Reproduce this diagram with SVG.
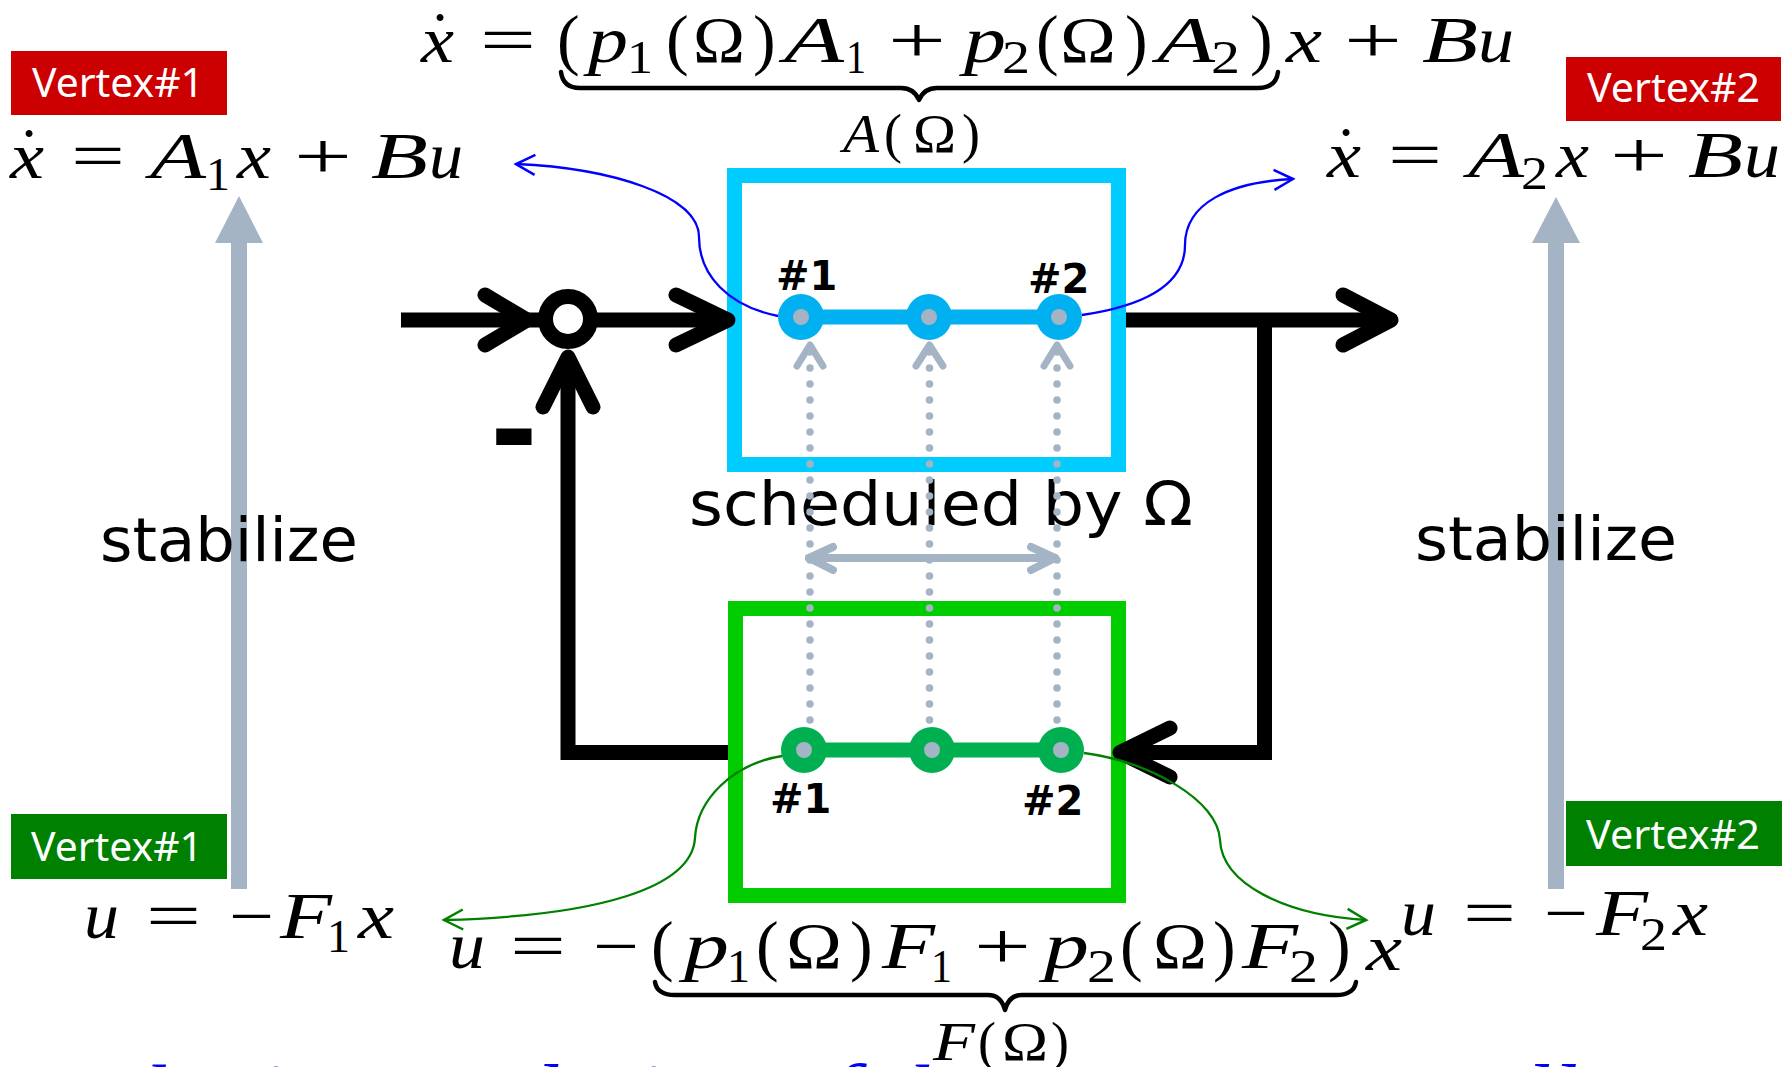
<svg xmlns="http://www.w3.org/2000/svg" width="1787" height="1067" viewBox="0 0 1787 1067">
<defs>
<style>
.mi{font-family:"Liberation Serif",serif;font-style:italic;font-size:66px;fill:#000}
.mr{font-family:"Liberation Serif",serif;font-size:66px;fill:#000}
.sb{font-family:"Liberation Serif",serif;font-size:46px;fill:#000}
.pr{font-family:"Liberation Serif",serif;font-size:68px;fill:#000}
.li{font-family:"Liberation Serif",serif;font-style:italic;font-size:54px;fill:#000}
.lr{font-family:"Liberation Serif",serif;font-size:54px;fill:#000}
.vt{font-family:"Noto Sans",sans-serif;font-size:40px;fill:#fff}
.hl{font-family:"DejaVu Sans",sans-serif;font-weight:bold;font-size:40px;fill:#000}
.lb{font-family:"DejaVu Sans",sans-serif;font-size:60px;fill:#000}
.blk{fill:none;stroke:#000;stroke-width:15;stroke-linejoin:miter}
.chev{fill:none;stroke:#000;stroke-width:15;stroke-linecap:round;stroke-linejoin:round}
.gry{fill:none;stroke:#A5B4C4;stroke-linecap:round;stroke-linejoin:round}
.dots{fill:none;stroke:#A5B4C4;stroke-width:7.5;stroke-linecap:round;stroke-dasharray:0 16}
.brace{fill:none;stroke:#000;stroke-width:4.5;stroke-linecap:round;stroke-linejoin:round}
.cb{fill:none;stroke:#0000FF;stroke-width:2.3}
.cg{fill:none;stroke:#008000;stroke-width:2.3}
</style>
<marker id="mb" markerWidth="30" markerHeight="30" refX="20" refY="11" orient="auto" markerUnits="userSpaceOnUse" overflow="visible"><path d="M1,1 L20,11 L1,21" fill="none" stroke="#0000FF" stroke-width="2.5"/></marker>
<marker id="mg" markerWidth="30" markerHeight="30" refX="20" refY="11" orient="auto" markerUnits="userSpaceOnUse" overflow="visible"><path d="M1,1 L20,11 L1,21" fill="none" stroke="#008000" stroke-width="2.5"/></marker>
</defs>
<rect width="1787" height="1067" fill="#fff"/>

<!-- stabilize arrows -->
<g id="stabilize-left">
<path d="M231,889 V243 H215 L239,196 L263,243 H247 V889 Z" fill="#A5B4C4"/>
<text class="lb" x="100" y="561" textLength="258" lengthAdjust="spacingAndGlyphs">stabilize</text>
</g>
<g id="stabilize-right">
<path d="M1548,889 V243 H1532 L1556,197 L1580,243 H1564 V889 Z" fill="#A5B4C4"/>
<text class="lb" x="1415" y="560" textLength="262" lengthAdjust="spacingAndGlyphs">stabilize</text>
</g>

<!-- vertex labels -->
<g id="vertex1-red"><rect x="11" y="51" width="216" height="64" fill="#CC0000"/><text class="vt" x="32" y="97" textLength="172" lengthAdjust="spacingAndGlyphs">Vertex#1</text></g>
<g id="vertex2-red"><rect x="1566" y="57" width="215" height="64" fill="#CC0000"/><text class="vt" x="1587" y="102" textLength="173" lengthAdjust="spacingAndGlyphs">Vertex#2</text></g>
<g id="vertex1-green"><rect x="11" y="814" width="216" height="65" fill="#008000"/><text class="vt" x="31" y="861" textLength="172" lengthAdjust="spacingAndGlyphs">Vertex#1</text></g>
<g id="vertex2-green"><rect x="1566" y="801" width="216" height="65" fill="#008000"/><text class="vt" x="1586" y="849" textLength="174" lengthAdjust="spacingAndGlyphs">Vertex#2</text></g>

<!-- top equation -->
<g id="eq-top">
<text class="mi" x="421" y="62" textLength="33" lengthAdjust="spacingAndGlyphs">x</text>
<text class="mr" x="440" y="58" text-anchor="middle">˙</text>
<text class="mr" x="480" y="62" textLength="56" lengthAdjust="spacingAndGlyphs">=</text>
<text class="pr" x="557" y="62">(</text>
<text class="mi" x="588" y="62" textLength="40" lengthAdjust="spacingAndGlyphs">p</text>
<text class="sb" x="627" y="73" textLength="26" lengthAdjust="spacingAndGlyphs">1</text>
<text class="pr" x="666" y="62">(</text>
<text class="mr" x="693" y="62" textLength="52" lengthAdjust="spacingAndGlyphs">Ω</text>
<text class="pr" x="753" y="62">)</text>
<text class="mi" x="784" y="62" textLength="60" lengthAdjust="spacingAndGlyphs">A</text>
<text class="sb" x="846" y="73" textLength="20" lengthAdjust="spacingAndGlyphs">1</text>
<text class="mr" x="888" y="62" textLength="58" lengthAdjust="spacingAndGlyphs">+</text>
<text class="mi" x="964" y="62" textLength="42" lengthAdjust="spacingAndGlyphs">p</text>
<text class="sb" x="1002" y="73" textLength="28" lengthAdjust="spacingAndGlyphs">2</text>
<text class="pr" x="1036" y="62">(</text>
<text class="mr" x="1060" y="62" textLength="56" lengthAdjust="spacingAndGlyphs">Ω</text>
<text class="pr" x="1125" y="62">)</text>
<text class="mi" x="1157" y="62" textLength="58" lengthAdjust="spacingAndGlyphs">A</text>
<text class="sb" x="1211" y="73" textLength="29" lengthAdjust="spacingAndGlyphs">2</text>
<text class="pr" x="1250" y="62">)</text>
<text class="mi" x="1286" y="62" textLength="36" lengthAdjust="spacingAndGlyphs">x</text>
<text class="mr" x="1344" y="62" textLength="58" lengthAdjust="spacingAndGlyphs">+</text>
<text class="mi" x="1422" y="62" textLength="56" lengthAdjust="spacingAndGlyphs">B</text>
<text class="mi" x="1478" y="62" textLength="36" lengthAdjust="spacingAndGlyphs">u</text>
<path class="brace" d="M561,72 Q563,88 580,88 L901,88 Q914,88 919,100 Q924,88 937,88 L1258,88 Q1276,88 1278,72"/>
<text class="li" x="843" y="152" textLength="36" lengthAdjust="spacingAndGlyphs">A</text>
<text class="lr" x="884" y="152">(</text>
<text class="lr" x="913" y="152" textLength="43" lengthAdjust="spacingAndGlyphs">Ω</text>
<text class="lr" x="962" y="152">)</text>
</g>

<!-- left equation -->
<g id="eq-left">
<text class="mi" x="10" y="178" textLength="34" lengthAdjust="spacingAndGlyphs">x</text>
<text class="mr" x="29" y="174" text-anchor="middle">˙</text>
<text class="mr" x="71" y="178" textLength="54" lengthAdjust="spacingAndGlyphs">=</text>
<text class="mi" x="150" y="178" textLength="56" lengthAdjust="spacingAndGlyphs">A</text>
<text class="sb" x="206" y="190" textLength="24" lengthAdjust="spacingAndGlyphs">1</text>
<text class="mi" x="237" y="178" textLength="34" lengthAdjust="spacingAndGlyphs">x</text>
<text class="mr" x="294" y="178" textLength="58" lengthAdjust="spacingAndGlyphs">+</text>
<text class="mi" x="371" y="178" textLength="57" lengthAdjust="spacingAndGlyphs">B</text>
<text class="mi" x="429" y="178" textLength="34" lengthAdjust="spacingAndGlyphs">u</text>
</g>

<!-- right equation -->
<g id="eq-right">
<text class="mi" x="1327" y="177" textLength="34" lengthAdjust="spacingAndGlyphs">x</text>
<text class="mr" x="1346" y="173" text-anchor="middle">˙</text>
<text class="mr" x="1388" y="177" textLength="54" lengthAdjust="spacingAndGlyphs">=</text>
<text class="mi" x="1468" y="177" textLength="56" lengthAdjust="spacingAndGlyphs">A</text>
<text class="sb" x="1521" y="189" textLength="27" lengthAdjust="spacingAndGlyphs">2</text>
<text class="mi" x="1556" y="177" textLength="33" lengthAdjust="spacingAndGlyphs">x</text>
<text class="mr" x="1610" y="177" textLength="58" lengthAdjust="spacingAndGlyphs">+</text>
<text class="mi" x="1688" y="177" textLength="55" lengthAdjust="spacingAndGlyphs">B</text>
<text class="mi" x="1744" y="177" textLength="36" lengthAdjust="spacingAndGlyphs">u</text>
</g>

<!-- bottom left equation -->
<g id="eq-bottom-left">
<text class="mi" x="84" y="938" textLength="35" lengthAdjust="spacingAndGlyphs">u</text>
<text class="mr" x="146" y="938" textLength="55" lengthAdjust="spacingAndGlyphs">=</text>
<text class="mr" x="229" y="938" textLength="45" lengthAdjust="spacingAndGlyphs">−</text>
<text class="mi" x="280" y="938" textLength="52" lengthAdjust="spacingAndGlyphs">F</text>
<text class="sb" x="327" y="952" textLength="23" lengthAdjust="spacingAndGlyphs">1</text>
<text class="mi" x="358" y="938" textLength="36" lengthAdjust="spacingAndGlyphs">x</text>
</g>

<!-- bottom right equation -->
<g id="eq-bottom-right">
<text class="mi" x="1401" y="935" textLength="35" lengthAdjust="spacingAndGlyphs">u</text>
<text class="mr" x="1463" y="935" textLength="53" lengthAdjust="spacingAndGlyphs">=</text>
<text class="mr" x="1544" y="935" textLength="44" lengthAdjust="spacingAndGlyphs">−</text>
<text class="mi" x="1596" y="935" textLength="52" lengthAdjust="spacingAndGlyphs">F</text>
<text class="sb" x="1640" y="950" textLength="27" lengthAdjust="spacingAndGlyphs">2</text>
<text class="mi" x="1673" y="935" textLength="35" lengthAdjust="spacingAndGlyphs">x</text>
</g>

<!-- bottom middle equation -->
<g id="eq-bottom">
<text class="mi" x="449" y="968" textLength="36" lengthAdjust="spacingAndGlyphs">u</text>
<text class="mr" x="510" y="968" textLength="56" lengthAdjust="spacingAndGlyphs">=</text>
<text class="mr" x="593" y="968" textLength="46" lengthAdjust="spacingAndGlyphs">−</text>
<text class="pr" x="651" y="968">(</text>
<text class="mi" x="684" y="968" textLength="45" lengthAdjust="spacingAndGlyphs">p</text>
<text class="sb" x="727" y="982" textLength="23" lengthAdjust="spacingAndGlyphs">1</text>
<text class="pr" x="756" y="968">(</text>
<text class="mr" x="786" y="968" textLength="56" lengthAdjust="spacingAndGlyphs">Ω</text>
<text class="pr" x="850" y="968">)</text>
<text class="mi" x="882" y="968" textLength="53" lengthAdjust="spacingAndGlyphs">F</text>
<text class="sb" x="931" y="982" textLength="21" lengthAdjust="spacingAndGlyphs">1</text>
<text class="mr" x="974" y="968" textLength="57" lengthAdjust="spacingAndGlyphs">+</text>
<text class="mi" x="1044" y="968" textLength="45" lengthAdjust="spacingAndGlyphs">p</text>
<text class="sb" x="1087" y="982" textLength="29" lengthAdjust="spacingAndGlyphs">2</text>
<text class="pr" x="1120" y="968">(</text>
<text class="mr" x="1153" y="968" textLength="54" lengthAdjust="spacingAndGlyphs">Ω</text>
<text class="pr" x="1213" y="968">)</text>
<text class="mi" x="1242" y="968" textLength="56" lengthAdjust="spacingAndGlyphs">F</text>
<text class="sb" x="1289" y="982" textLength="29" lengthAdjust="spacingAndGlyphs">2</text>
<text class="pr" x="1328" y="968">)</text>
<text class="mi" x="1366" y="970" textLength="36" lengthAdjust="spacingAndGlyphs">x</text>
<path class="brace" d="M655,982 Q657,995 675,995 L988,995 Q1001,995 1005,1010 Q1009,995 1022,995 L1336,995 Q1354,995 1356,982"/>
<text class="li" x="933" y="1060" textLength="42" lengthAdjust="spacingAndGlyphs">F</text>
<text class="lr" x="978" y="1060">(</text>
<text class="lr" x="1002" y="1060" textLength="46" lengthAdjust="spacingAndGlyphs">Ω</text>
<text class="lr" x="1051" y="1060">)</text>
</g>

<!-- scheduled label -->
<g id="scheduled"><text class="lb" x="689" y="525" textLength="504" lengthAdjust="spacingAndGlyphs">scheduled by Ω</text></g>

<!-- boxes -->
<g id="box-A"><rect x="734.5" y="175.5" width="384" height="289" fill="none" stroke="#00CCFF" stroke-width="15"/></g>
<g id="box-F"><rect x="735.5" y="608.5" width="383" height="287" fill="none" stroke="#00CC00" stroke-width="15"/></g>

<!-- black loop connectors -->
<g id="loop">
<path class="blk" d="M401,320 H550"/>
<path class="blk" d="M590,320 H727"/>
<path class="blk" d="M1126,320 H1390"/>
<path class="blk" d="M1264.5,320 V752.5 H1120"/>
<path class="blk" d="M728,752.5 H568 V358"/>
<path class="chev" d="M485,295 L527,320 L485,345"/>
<path class="chev" d="M676,295 L728,320 L676,345"/>
<path class="chev" d="M1343,295 L1391,320 L1343,345"/>
<path class="chev" d="M1170,728 L1120,752.5 L1170,777"/>
<path class="chev" d="M543,407 L568,357 L593,407"/>
</g>
<g id="junction"><circle cx="568" cy="319" r="22.5" fill="#fff" stroke="#000" stroke-width="15"/>
<text x="490" y="470" font-family="DejaVu Sans, sans-serif" font-weight="bold" font-size="115" fill="#000">-</text></g>

<!-- nodes in A box -->
<g id="nodes-A">
<line x1="801" y1="317" x2="1059" y2="317" stroke="#00B0F0" stroke-width="15"/>
<g id="nodeA1"><circle cx="801" cy="317" r="23" fill="#00B0F0"/><circle cx="801" cy="317" r="8" fill="#A5B4C4"/><text class="hl" x="776" y="290">#1</text></g>
<g id="nodeA-mid"><circle cx="929" cy="317" r="23" fill="#00B0F0"/><circle cx="929" cy="317" r="8" fill="#A5B4C4"/></g>
<g id="nodeA2"><circle cx="1059" cy="317" r="23" fill="#00B0F0"/><circle cx="1059" cy="317" r="8" fill="#A5B4C4"/><text class="hl" x="1028" y="293">#2</text></g>
</g>

<!-- nodes in F box -->
<g id="nodes-F">
<line x1="804" y1="750" x2="1061" y2="750" stroke="#00B050" stroke-width="15"/>
<g id="nodeF1"><circle cx="804" cy="750" r="23" fill="#00B050"/><circle cx="804" cy="750" r="8" fill="#A5B4C4"/><text class="hl" x="770" y="813">#1</text></g>
<g id="nodeF-mid"><circle cx="932" cy="750" r="23" fill="#00B050"/><circle cx="932" cy="750" r="8" fill="#A5B4C4"/></g>
<g id="nodeF2"><circle cx="1061" cy="750" r="23" fill="#00B050"/><circle cx="1061" cy="750" r="8" fill="#A5B4C4"/><text class="hl" x="1022" y="815">#2</text></g>
</g>

<!-- scheduling connectors -->
<g id="schedule-links">
<path class="dots" d="M810,352 V726"/>
<path class="dots" d="M929.5,352 V726"/>
<path class="dots" d="M1057,352 V726"/>
<path class="gry" stroke-width="7" d="M797,366 L810,345 L823,366"/>
<path class="gry" stroke-width="7" d="M916,366 L929.5,345 L943,366"/>
<path class="gry" stroke-width="7" d="M1044,366 L1057,345 L1070,366"/>
<path class="gry" stroke-width="8" d="M809,558 H1055"/>
<path class="gry" stroke-width="8" d="M833,547 L809,558 L833,570"/>
<path class="gry" stroke-width="8" d="M1031,547 L1055,558 L1031,570"/>
</g>

<!-- vertex curves -->
<g id="vertex-links">
<path class="cb" marker-end="url(#mb)" d="M778,316 C728,306 699,275 699,237 C699,195 610,168 516,164"/>
<path class="cb" marker-end="url(#mb)" d="M1082,315 C1150,305 1185,282 1185,245 C1185,203 1230,182 1293,179"/>
<path class="cg" marker-end="url(#mg)" d="M782,756 C732,764 697,800 695,838 C692,888 598,916 444,920"/>
<path class="cg" marker-end="url(#mg)" d="M1084,753 C1150,762 1218,800 1220,840 C1222,884 1285,915 1366,920"/>
</g>

<!-- cut-off caption -->
<g id="caption"><text x="90" y="1120" font-family="Liberation Serif, serif" font-style="italic" font-size="80" fill="#0000FF" textLength="1605" lengthAdjust="spacingAndGlyphs">The interpolation of the vertex controllers</text></g>
</svg>
